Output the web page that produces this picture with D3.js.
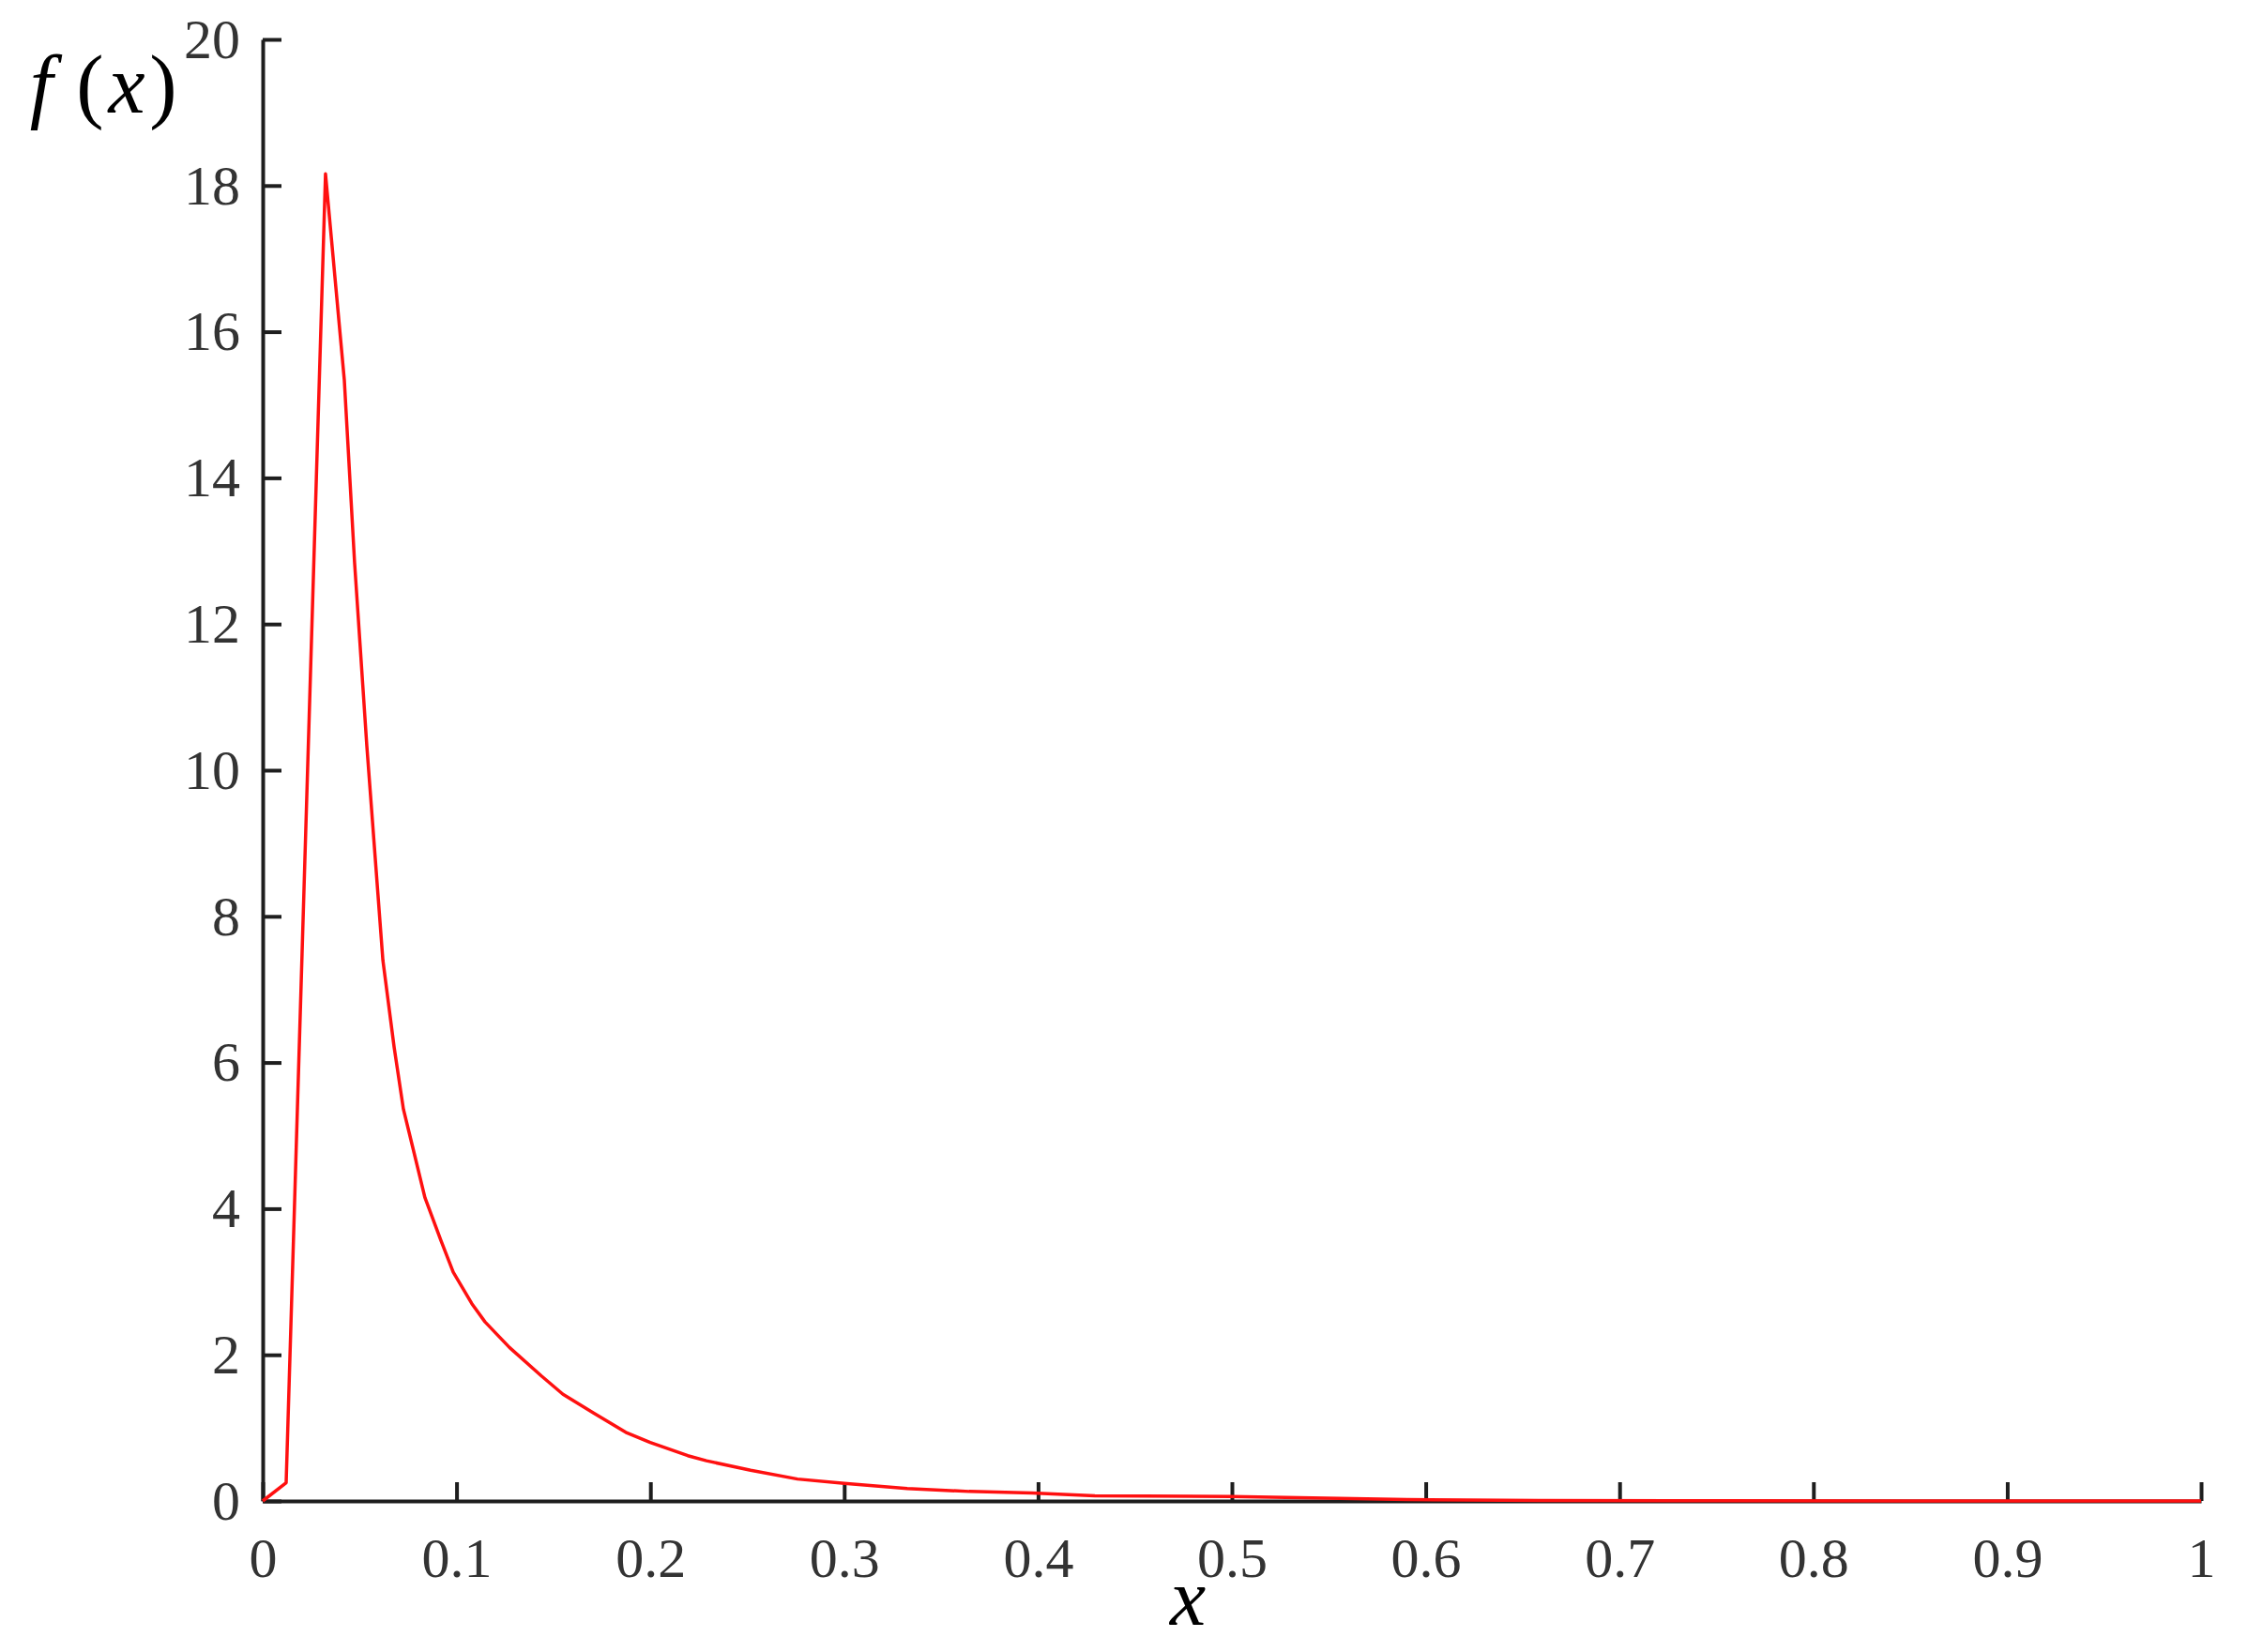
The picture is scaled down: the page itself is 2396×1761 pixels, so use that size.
<!DOCTYPE html>
<html>
<head>
<meta charset="utf-8">
<script src="https://cdn.jsdelivr.net/npm/d3@7"></script>
<style>
    html, body { margin: 0; padding: 0; background: #fff; }
    #chart { width: 2396px; height: 1761px; }
    .axis path, .axis line { stroke: #1e1e1e; stroke-width: 4; }
    .axis text { font-family: "Liberation Serif", "Times New Roman", serif; font-size: 60px; fill: #333; }
    .math { font-family: "Liberation Serif", "Times New Roman", serif; fill: #000; }
</style>
</head>
<body>
<div id="chart"></div>
<script>
//Datos
const xValues = [0, 0.0121, 0.0324, 0.0421, 0.0474, 0.0537, 0.062, 0.0678, 0.0726, 0.0774, 0.0837,
    0.092, 0.0983, 0.1079, 0.1147, 0.1273, 0.1438, 0.1549, 0.1709, 0.1873, 0.1999, 0.2193, 0.2289,
    0.2517, 0.2759, 0.3001, 0.3325, 0.3645, 0.3969, 0.4293, 0.5, 0.5905, 0.658, 0.75, 0.85, 1];
const fValues = [0, 0.25, 18.16, 15.34, 12.84, 10.34, 7.4, 6.21, 5.36, 4.84, 4.15,
    3.56, 3.13, 2.7, 2.45, 2.1, 1.71, 1.46, 1.2, 0.94, 0.8, 0.62, 0.55,
    0.42, 0.3, 0.24, 0.17, 0.13, 0.11, 0.07, 0.06, 0.02, 0.006, 0.002, 0.001, 0];
const xTicks = [0, 0.1, 0.2, 0.3, 0.4, 0.5, 0.6, 0.7, 0.8, 0.9, 1];
const yTicks = [0, 2, 4, 6, 8, 10, 12, 14, 16, 18, 20];

let margin = {top: 42, right: 50, bottom: 161, left: 280},
    width = 2396 - margin.left - margin.right,
    height = 1761 - margin.top - margin.bottom;

let svg = d3.select('#chart')
    .append('svg')
        .attr('width', width + margin.left + margin.right)
        .attr('height', height + margin.top + margin.bottom)
    .append('g')
        .attr('transform', 'translate(' + margin.left + ',' + margin.top + ')');

let x = d3.scaleLinear()
    .domain([0, 1])
    .range([0, width]);

let y = d3.scaleLinear()
    .domain([0, 20])
    .range([height, 0]);

//Ejes con marcas hacia dentro
svg.append('g')
    .attr('class', 'axis')
    .attr('transform', 'translate(0,' + height + ')')
    .call(d3.axisBottom(x).tickValues(xTicks).tickSize(-20).tickSizeOuter(0).tickPadding(38)
        .tickFormat(function(d) { return d3.format('')(d); }));

svg.append('g')
    .attr('class', 'axis')
    .call(d3.axisLeft(y).tickValues(yTicks).tickSize(-20).tickSizeOuter(0).tickPadding(24));

//Curva
let data = xValues.map(function(d, i) { return {x: d, y: fValues[i]}; });

svg.append('path')
    .datum(data)
    .attr('fill', 'none')
    .attr('stroke', '#ff1010')
    .attr('stroke-width', 3.5)
    .attr('stroke-linejoin', 'round')
    .attr('d', d3.line()
        .x(function(d) { return x(d.x); })
        .y(function(d) { return y(d.y); }));

//Titulos de los ejes
let root = d3.select('#chart svg');

root.append('text')
    .attr('class', 'math')
    .attr('x', 1266)
    .attr('y', 1732)
    .attr('text-anchor', 'middle')
    .attr('font-size', 86)
    .attr('font-style', 'italic')
    .text('x');

let fx = [
    {t: 'f', cx: 44, italic: true},
    {t: '(', cx: 96, italic: false},
    {t: 'x', cx: 135, italic: true},
    {t: ')', cx: 174, italic: false}
];

root.selectAll('.fx')
    .data(fx)
    .enter()
    .append('text')
    .attr('class', 'math fx')
    .attr('x', function(d) { return d.cx; })
    .attr('y', 120)
    .attr('text-anchor', 'middle')
    .attr('font-size', 88)
    .attr('font-style', function(d) { return d.italic ? 'italic' : 'normal'; })
    .text(function(d) { return d.t; });
</script>
</body>
</html>
